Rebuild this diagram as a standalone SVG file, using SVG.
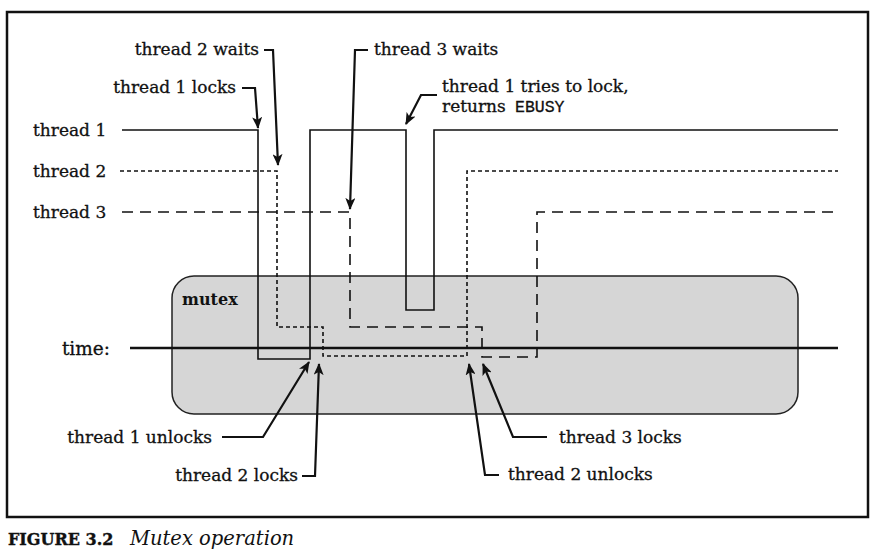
<svg xmlns="http://www.w3.org/2000/svg" width="883" height="557" viewBox="0 0 883 557">
<style>
.lbl{font-family:"DejaVu Serif","Liberation Serif",serif;font-size:17px;fill:#111;stroke:#111;stroke-width:0.3}
.mono{font-family:"Liberation Mono","DejaVu Sans Mono",monospace;font-size:16.5px;fill:#111;stroke:#111;stroke-width:0.3}
.t1{fill:none;stroke:#111;stroke-width:1.6}
.t2{fill:none;stroke:#111;stroke-width:1.6;stroke-dasharray:4 3}
.t3{fill:none;stroke:#111;stroke-width:1.6;stroke-dasharray:11 7}
.lead{fill:none;stroke:#111;stroke-width:2.2;marker-end:url(#ah)}
</style>
<defs>
<marker id="ah" viewBox="0 0 12 10" refX="11" refY="5" markerWidth="12" markerHeight="10" markerUnits="userSpaceOnUse" orient="auto">
<path d="M0,0 L12,5 L0,10 L3,5 z" fill="#111"/>
</marker>
</defs>
<rect x="0" y="0" width="883" height="557" fill="#fff"/>
<rect id="frame" x="7" y="12" width="861" height="505" fill="none" stroke="#111" stroke-width="2.5"/>

<g id="mutex">
<rect x="172" y="276" width="626" height="138" rx="22" ry="22" fill="#d6d6d6" stroke="#222" stroke-width="1.5"/>
<text x="182" y="305" style="font-family:'DejaVu Serif','Liberation Serif',serif;font-size:16px;font-weight:bold;fill:#111">mutex</text>
</g>

<g id="time-axis">
<text class="lbl" x="110" y="355" text-anchor="end" style="font-size:18.5px">time:</text>
<line x1="130" y1="348" x2="838" y2="348" stroke="#111" stroke-width="2.5"/>
</g>

<g id="thread1">
<text class="lbl" x="33" y="136">thread 1</text>
<path class="t1" d="M122,130 H258 V359 H310 V130 H406 V310 H434 V130 H838"/>
</g>
<g id="thread2">
<text class="lbl" x="33" y="177">thread 2</text>
<path class="t2" d="M120,171 H277 V327 H323 V356 H467 V171 H838"/>
</g>
<g id="thread3">
<text class="lbl" x="33" y="218">thread 3</text>
<path class="t3" d="M122,212 H350 V327 H482 V357 H537 V212 H838"/>
</g>

<g id="labels">
<text class="lbl" x="259" y="55" text-anchor="end">thread 2 waits</text>
<text class="lbl" x="236" y="93" text-anchor="end">thread 1 locks</text>
<text class="lbl" x="374" y="55">thread 3 waits</text>
<text class="lbl" x="442" y="92">thread 1 tries to lock,</text>
<text class="lbl" x="442" y="112">returns <tspan class="mono" x="515">EBUSY</tspan></text>
<text class="lbl" x="212" y="443" text-anchor="end">thread 1 unlocks</text>
<text class="lbl" x="298" y="481" text-anchor="end">thread 2 locks</text>
<text class="lbl" x="559" y="443">thread 3 locks</text>
<text class="lbl" x="508" y="480">thread 2 unlocks</text>
</g>

<g id="connectors">
<path class="lead" d="M242,88 H255 L258,128"/>
<path class="lead" d="M264,50 H273 L278,165"/>
<path class="lead" d="M368,50 H355 L350,209"/>
<path class="lead" d="M437,95 H421 L406,124"/>
<path class="lead" d="M222,437 H263 L309,362"/>
<path class="lead" d="M302,476 H315 L319,364"/>
<path class="lead" d="M499,475 H485 L469,364"/>
<path class="lead" d="M547,437 H513 L483,364"/>
</g>

<g id="caption">
<text x="8" y="545" style="font-family:'DejaVu Serif','Liberation Serif',serif;font-size:16px;font-weight:900;fill:#111;stroke:#111;stroke-width:0.4">FIGURE 3.2</text>
<text x="130" y="545" style="font-family:'DejaVu Serif','Liberation Serif',serif;font-size:19.5px;font-style:italic;fill:#111">Mutex operation</text>
</g>
</svg>
